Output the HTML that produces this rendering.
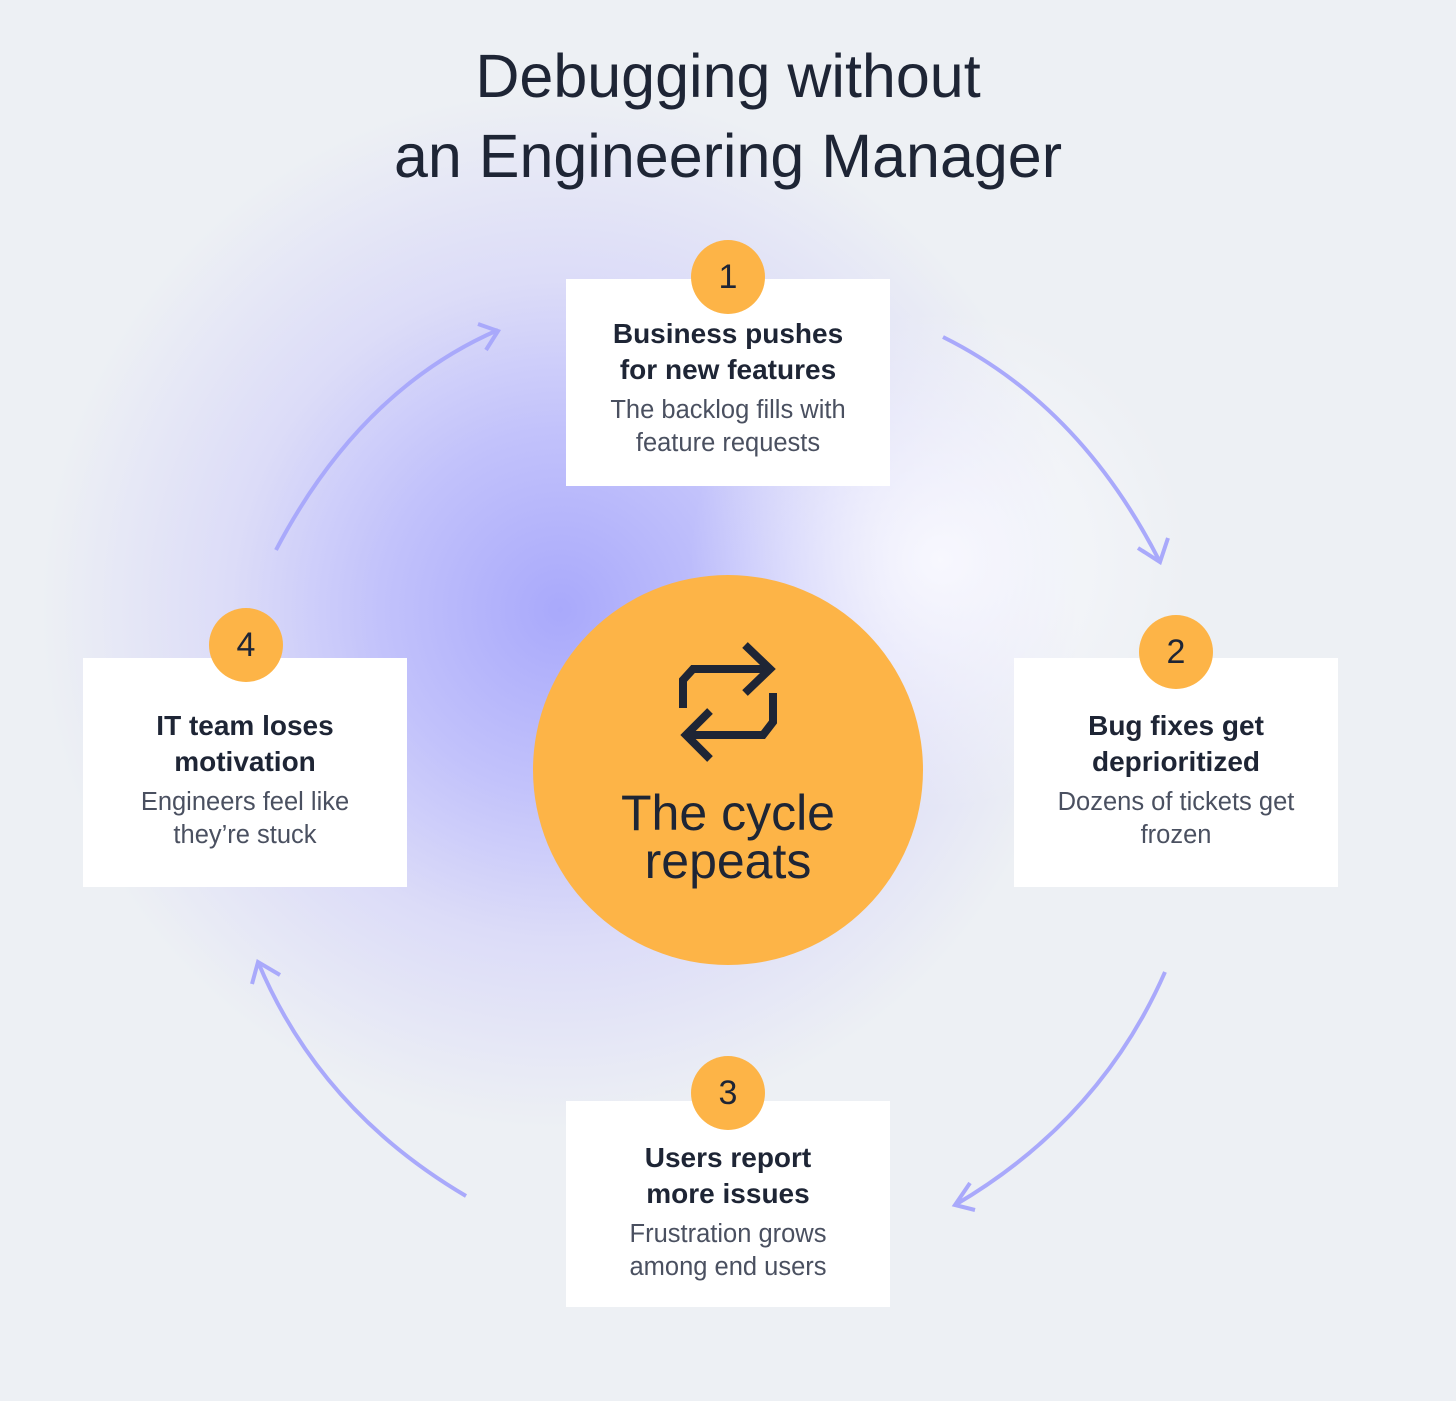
<!DOCTYPE html><html><head><style>
body{margin:0;width:1456px;height:1401px;background:#edf0f4;font-family:"Liberation Sans",sans-serif;position:relative;overflow:hidden;color:#1e2535}
.glow{position:absolute;left:0;top:0;width:1456px;height:1401px;background:radial-gradient(circle at 560px 610px,#a9a9fb 0px,#c2c2fb 180px,#dcdcf8 330px,rgba(237,240,244,0) 520px)}
.glow2{position:absolute;left:0;top:0;width:1456px;height:1401px;background:radial-gradient(circle at 940px 560px,rgba(250,250,255,.9) 0,rgba(240,240,252,0) 250px)}
h1{position:absolute;top:36px;left:0;width:1456px;text-align:center;margin:0;font-weight:400;font-size:61px;line-height:80px;color:#1e2535}
.box{position:absolute;background:#fff;text-align:center;width:324px}
.box b{display:block;font-size:28px;line-height:36px;color:#1e2535}
.box p{margin:6px 0 0;font-size:25.5px;line-height:33px;color:#4a5060}
.badge{position:absolute;width:74px;height:74px;border-radius:50%;background:#fdb447;font-size:34px;line-height:74px;text-align:center;color:#1e2535}
.circ{position:absolute;left:533px;top:575px;width:390px;height:390px;border-radius:50%;background:#fdb447}
.ct{position:absolute;left:533px;top:789px;width:390px;text-align:center;font-size:50px;line-height:48px;color:#1e2535}
</style></head><body>
<div class="glow"></div><div class="glow2"></div>
<h1>Debugging without<br>an Engineering Manager</h1>
<svg width="1456" height="1401" style="position:absolute;left:0;top:0" fill="none" stroke="#a9a9fb" stroke-width="4">
<path d="M276 550 Q360 390 498 330"/><path d="M478 324 L498 331 L486 350"/>
<path d="M943 337 Q1080 405 1160 562"/><path d="M1138 548 L1160 562 L1168 538"/>
<path d="M1165 972 Q1100 1120 955 1205"/><path d="M970 1183 L955 1205 L975 1210"/>
<path d="M466 1196 Q320 1110 258 962"/><path d="M252 984 L258 962 L280 975"/>
</svg>
<div class="circ"></div>
<svg width="1456" height="1401" style="position:absolute;left:0;top:0" fill="none" stroke="#1e2535" stroke-width="8">
<path d="M683 708 V680 L693 669 H770"/><path d="M745 645 L770 669 L745 693"/>
<path d="M773 693 V722 L763 735 H685"/><path d="M710 711 L686 735 L710 759"/>
</svg>
<div class="ct">The cycle<br>repeats</div>
<div class="box" style="left:566px;top:279px;height:207px"><b style="margin-top:37px">Business pushes<br>for new features</b><p>The backlog fills with<br>feature requests</p></div>
<div class="box" style="left:1014px;top:658px;height:229px"><b style="margin-top:50px">Bug fixes get<br>deprioritized</b><p>Dozens of tickets get<br>frozen</p></div>
<div class="box" style="left:566px;top:1101px;height:206px"><b style="margin-top:39px">Users report<br>more issues</b><p>Frustration grows<br>among end users</p></div>
<div class="box" style="left:83px;top:658px;height:229px"><b style="margin-top:50px">IT team loses<br>motivation</b><p>Engineers feel like<br>they’re stuck</p></div>
<div class="badge" style="left:691px;top:240px">1</div>
<div class="badge" style="left:1139px;top:615px">2</div>
<div class="badge" style="left:691px;top:1056px">3</div>
<div class="badge" style="left:209px;top:608px">4</div>
</body></html>
